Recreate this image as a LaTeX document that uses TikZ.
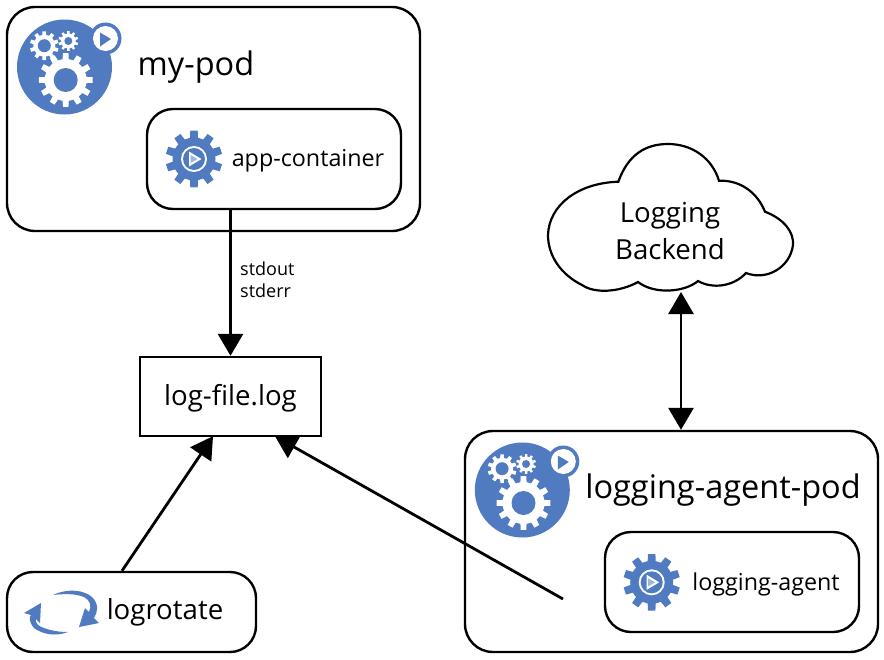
\documentclass[tikz,border=0pt]{standalone}
\usepackage{fontspec}
\setmainfont{Open Sans}
\usetikzlibrary{arrows.meta}
\definecolor{kblue}{RGB}{80,123,192}
\newcommand{\cogwheel}[7]{% x, y, teeth, outer, root, halfangle-root, colour
  \fill[#7,shift={(#1,#2)}] (0,0) circle (#5);
  \pgfmathsetmacro{\cogstep}{360/#3}
  \foreach \k in {1,...,#3}{
    \pgfmathsetmacro{\cogang}{\k*\cogstep+90}
    \fill[#7,shift={(#1,#2)}] (\cogang-#6:#5-1) -- (\cogang-#6*0.65:#4) -- (\cogang+#6*0.65:#4) -- (\cogang+#6:#5-1) -- cycle;
  }
}
\newcommand{\podicon}[2]{%
  \begin{scope}[shift={(#1,#2)}]
    \fill[kblue] (64.5,67) circle (47.5);
    \fill[kblue] (105.5,38.5) circle (16);
    \fill[white] (105.5,38.5) circle (12.5);
    \fill[kblue] (100,32.5) -- (111,39) -- (100,46.5) -- cycle;
    \cogwheel{65.7}{80}{12}{27}{21}{9}{white}
    \fill[kblue] (65.7,80) circle (12);
    \cogwheel{44.3}{45.7}{10}{14.5}{11}{11}{white}
    \fill[kblue] (44.3,45.7) circle (6.5);
    \cogwheel{68.3}{41}{10}{10}{7.5}{11}{white}
    \fill[kblue] (68.3,41) circle (4);
  \end{scope}
}
\newcommand{\smallcog}[2]{%
  \begin{scope}[shift={(#1,#2)}]
    \cogwheel{0}{0}{10}{28.5}{21.5}{11.5}{kblue}
    \fill[white] (0,0) circle (13);
    \fill[kblue] (0,0) circle (11);
    \fill[white] (-5,-7.5) -- (7.5,0) -- (-5,7.5) -- cycle;
    \fill[kblue!55!white] (-3.5,-4) -- (3.5,0) -- (-3.5,4) -- cycle;
  \end{scope}
}
\tikzset{
  roundbox/.style={draw=black,line width=2.4pt,fill=white,rounded corners=#1,inner sep=0pt},
  roundbox/.default=26pt,
  label big/.style={font=\fontsize{32.5}{38}\selectfont,inner sep=0pt,text=black},
  label file/.style={font=\fontsize{27.6}{32}\selectfont,inner sep=0pt,text=black},
  label mid/.style={font=\fontsize{23.3}{27}\selectfont,inner sep=0pt,text=black},
  label small/.style={font=\fontsize{18}{22}\selectfont,inner sep=0pt,text=black,align=left},
  conn/.style={draw=black,line width=2.8pt},
  onetip/.style={conn,-{Triangle[length=22pt,width=25pt]}},
  twotip/.style={conn,{Triangle[length=22pt,width=25pt]}-{Triangle[length=22pt,width=25pt]}},
}
\begin{document}
\begin{tikzpicture}[x=1pt,y=-1pt]
\useasboundingbox (0,0) rectangle (884,659);
\fill[white] (0,0) rectangle (884,659);

% boxes
\node[roundbox=28pt,minimum width=413pt,minimum height=224pt] (mypod) at (213.5,119) {};
\node[roundbox=26pt,minimum width=254pt,minimum height=100pt] (appbox) at (274,159) {};
\node[draw=black,line width=2.4pt,fill=white,inner sep=0pt,minimum width=181pt,minimum height=79pt] (logfile) at (230.5,396.5) {};
\node[roundbox=26pt,minimum width=249pt,minimum height=80pt] (rotbox) at (131.5,612) {};
\node[roundbox=28pt,minimum width=413pt,minimum height=221pt] (agentpod) at (671.5,541.5) {};
\node[roundbox=26pt,minimum width=254pt,minimum height=100pt] (agentbox) at (732,582) {};

% cloud
\draw[line width=2.2pt,fill=white]
  (618.3,181.7) .. controls (628,155) and (645,144) .. (668,144)
  .. controls (692,144) and (712,158) .. (719,180.7)
  .. controls (740,180) and (757,192) .. (765,211.7)
  .. controls (784,219) and (794,232) .. (793,245)
  .. controls (790,268) and (766,281) .. (746,273)
  .. controls (733,287) and (712,289) .. (698,281)
  .. controls (685,292) and (655,295) .. (638,282)
  .. controls (620,292) and (595,294) .. (582,285)
  .. controls (560,274) and (548,255) .. (548,235)
  .. controls (549,205) and (578,183) .. (618.3,181.7) -- cycle;
\coordinate (cloudbottom) at (681,292);

% icons
\podicon{0}{0}
\podicon{457.8}{423}
\smallcog{194}{159}
\smallcog{651.7}{582.3}

% logrotate arrows
\fill[kblue] (53,595) .. controls (68,588) and (84,590) .. (92,597)
  .. controls (99,604) and (98,612) .. (94,618) -- (99,623) -- (79,627) -- (85,608) -- (89,612)
  .. controls (92,606) and (90,600) .. (84,597) .. controls (74,593) and (62,594) .. (53,595) -- cycle;
\fill[kblue] (68,632) .. controls (55,637) and (42,634) .. (34,628)
  .. controls (29,622) and (29,617) .. (31,615) -- (24,613) -- (41,603) -- (40,623) -- (36,619)
  .. controls (35,623) and (38,626) .. (44,628) .. controls (52,631) and (60,632) .. (68,632) -- cycle;

% labels
\node[label big] (tmypod) at (196,67) {my-pod};
\node[label mid] (tapp) at (308,161) {app-container};
\node[label file] (tcloud1) at (670,216) {Logging};
\node[label file] (tcloud2) at (670,249) {Backend};
\node[label file] (tlog) at (230.5,398) {log-file.log};
\node[label file] (trot) at (165,612) {logrotate};
\node[label big] (tagentpod) at (723,490) {logging-agent-pod};
\node[label mid] (tagent) at (766,584) {logging-agent};
\node[label small,anchor=west] (tstd) at (240,280) {stdout\\stderr};

% connectors
\draw[onetip] (appbox.south -| 230.5,0) -- (logfile.north);
\draw[twotip] (cloudbottom) -- (cloudbottom |- agentpod.north);
\draw[onetip] ([xshift=-9.5pt]rotbox.north) -- ([xshift=-17.5pt,yshift=1pt]logfile.south);
\coordinate (diagstart) at (563,599);
\draw[onetip] (diagstart) -- ([xshift=44.5pt,yshift=1pt]logfile.south);
\end{tikzpicture}
\end{document}
